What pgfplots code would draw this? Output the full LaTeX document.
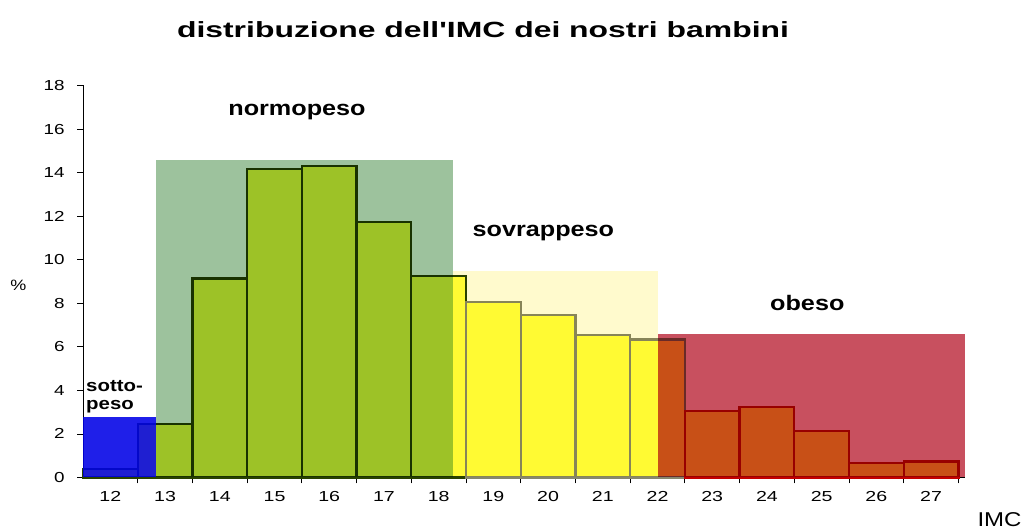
\documentclass[border=0pt]{standalone}
\usepackage{pgfplots}
\pgfplotsset{compat=1.18}
\usepackage{fontspec}
\setmainfont{Liberation Sans}[Ligatures=TeXOff]
\definecolor{baryel}{RGB}{255,255,64}
\definecolor{olgray}{RGB}{135,135,110}
\definecolor{olgreen}{RGB}{41,66,0}
\definecolor{olred}{RGB}{195,0,0}
\definecolor{ovgreen}{RGB}{157,194,157}
\definecolor{ovyellow}{RGB}{255,250,205}
\definecolor{ovred}{RGB}{200,80,95}
\definecolor{ovblue}{RGB}{0,0,230}
\begin{document}
\begin{tikzpicture}[x=1bp,y=1bp]
\path[use as bounding box] (0,0) rectangle (1026,529);
\begin{axis}[
  at={(83bp,51.5bp)}, anchor=south west,
  width=882bp, height=392bp, scale only axis,
  xmin=11.5, xmax=27.62, ymin=0, ymax=18,
  axis lines=left,
  axis line style={-, line width=0.8bp, black},
  ytick={0,2,...,18},
  xtick={12,...,27},
  minor xtick={12.5,13.5,...,27.5},
  major x tick style={draw=none},
  tick align=outside,
  major tick length=6bp, minor tick length=6bp,
  tick style={black, line width=0.8bp},
  /pgf/number format/assume math mode=true,
  xticklabel style={font=\fontsize{14.5bp}{16bp}\selectfont, xscale=1.35,
    text height=10.5bp, text depth=0pt, anchor=north, yshift=-4bp},
  yticklabel style={font=\fontsize{14.5bp}{16bp}\selectfont, xscale=1.3, xshift=-6bp},
  clip=false,
]
% bars
\addplot[ybar, bar width=1, bar shift=0pt, fill=baryel, draw=olgreen, line width=2.2bp]
  coordinates {(12,0.4) (13,2.46) (14,9.14) (15,14.18) (16,14.32) (17,11.72) (18,9.26)};
\addplot[ybar, bar width=1, bar shift=0pt, fill=baryel, draw=olgray, line width=2.2bp]
  coordinates {(19,8.04) (20,7.45) (21,6.54) (22,6.34)};
\addplot[ybar, bar width=1, bar shift=0pt, fill=baryel, draw=olred, line width=2.2bp]
  coordinates {(23,3.05) (24,3.25) (25,2.13) (26,0.65) (27,0.73)};
% region overlays
\addplot[fill=ovgreen, draw=none, blend mode=multiply] coordinates {(12.83,14.56) (18.26,14.56)} \closedcycle;
\addplot[fill=ovyellow, draw=none, blend mode=multiply] coordinates {(18.26,9.49) (22.0,9.49)} \closedcycle;
\addplot[fill=ovred, draw=none, blend mode=multiply] coordinates {(22.0,6.58) (27.62,6.58)} \closedcycle;
\addplot[fill=ovblue, draw=none, fill opacity=0.88] coordinates {(11.5,2.77) (12.83,2.77)} \closedcycle;
\end{axis}
\node[font=\fontsize{22bp}{26bp}\selectfont\bfseries, xscale=1.45, anchor=base] at (483,491.7) {distribuzione dell'IMC dei nostri bambini};
\node[font=\fontsize{21bp}{24bp}\selectfont\bfseries, xscale=1.2, anchor=base] at (297,413) {normopeso};
\node[font=\fontsize{21bp}{24bp}\selectfont\bfseries, xscale=1.2, anchor=base] at (543.4,292.3) {sovrappeso};
\node[font=\fontsize{21bp}{24bp}\selectfont\bfseries, xscale=1.2, anchor=base] at (807.3,218) {obeso};
\node[font=\fontsize{17bp}{20bp}\selectfont\bfseries, xscale=1.2, anchor=base west, inner sep=0pt] at (86,137.3) {sotto-};
\node[font=\fontsize{17bp}{20bp}\selectfont\bfseries, xscale=1.2, anchor=base west, inner sep=0pt] at (86,119) {peso};
\node[font=\fontsize{15bp}{18bp}\selectfont, xscale=1.2] at (18.5,244) {\%};
\node[font=\fontsize{20bp}{24bp}\selectfont, xscale=1.2, anchor=base] at (999.5,2.5) {IMC};
\end{tikzpicture}
\end{document}
